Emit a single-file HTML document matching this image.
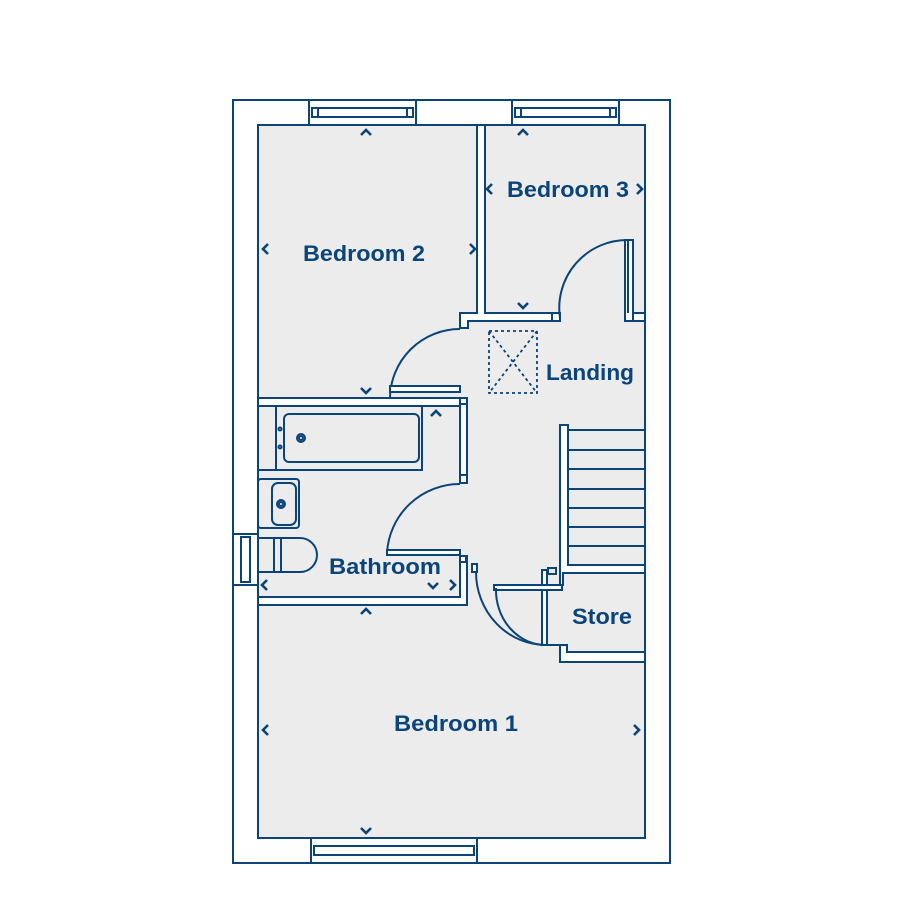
<!DOCTYPE html>
<html><head><meta charset="utf-8"><style>html,body{margin:0;padding:0;background:#fff}svg{display:block}</style></head><body>
<svg width="900" height="900" viewBox="0 0 900 900" xmlns="http://www.w3.org/2000/svg">
<g stroke="#0b4479" stroke-width="2" fill="none">
<rect x="233" y="100" width="437" height="763" fill="#fff"/>
<rect x="258" y="125" width="387" height="713" fill="#ececec"/>
<rect x="309" y="100" width="107" height="25" fill="#fff"/><rect x="312" y="108" width="101" height="9"/><line x1="318" y1="108" x2="318" y2="117"/><line x1="407" y1="108" x2="407" y2="117"/>
<rect x="512" y="100" width="107" height="25" fill="#fff"/><rect x="515" y="108" width="101" height="9"/><line x1="521" y1="108" x2="521" y2="117"/><line x1="610" y1="108" x2="610" y2="117"/>
<rect x="311" y="838" width="166" height="25" fill="#fff"/><rect x="314" y="846" width="160" height="9"/>
<rect x="233" y="534" width="25" height="51" fill="#fff"/><rect x="241" y="537" width="9" height="45"/>
<path d="M477 125 V313 H460 V328 H468 V321 H560 V313 H485 V125 Z" fill="#fff"/>
<rect x="552" y="313" width="8" height="8"/>
<path d="M625 240 H633 V313 H645 V321 H625 Z" fill="#fff"/><line x1="633" y1="313" x2="633" y2="321"/><line x1="628" y1="240" x2="628" y2="313"/>
<path d="M560 318 A68 68 0 0 1 628 240"/>
<path d="M460 329 A70 70 0 0 0 390 399"/>
<rect x="390" y="386" width="70" height="6" fill="#fff"/>
<path d="M258 398 H467 V483 H460 V406 H258 Z" fill="#fff"/>
<rect x="460" y="398" width="7" height="6" fill="#fff"/><rect x="460" y="475" width="7" height="8" fill="#fff"/>
<rect x="258" y="406" width="164" height="64"/><line x1="276" y1="406" x2="276" y2="470"/>
<rect x="284" y="414" width="135" height="48" rx="5"/>
<circle cx="301" cy="438" r="4"/><circle cx="301" cy="438" r="2"/>
<circle cx="280" cy="429" r="1.5"/><circle cx="280" cy="447" r="1.5"/>
<rect x="258" y="479" width="41" height="49" rx="3"/><rect x="272" y="483" width="24" height="42" rx="6"/><circle cx="281" cy="504" r="4"/><circle cx="281" cy="504" r="2"/>
<path d="M258 538 H300 A17 17 0 0 1 300 572 H258"/><line x1="274" y1="538" x2="274" y2="572"/><line x1="281" y1="538" x2="281" y2="572"/>
<path d="M460 484 A73 73 0 0 0 387 553"/>
<rect x="387" y="550" width="73" height="5" fill="#fff"/>
<path d="M460 556 H467 V605 H258 V597 H460 Z" fill="#fff"/><rect x="460" y="556" width="6" height="6"/>
<rect x="472" y="564" width="5" height="8" fill="#fff"/>
<path d="M560 425 H568 V565 H645 V573 H563 V585 H560 Z" fill="#fff"/>
<line x1="568" y1="430" x2="645" y2="430"/><line x1="568" y1="450" x2="645" y2="450"/><line x1="568" y1="469" x2="645" y2="469"/><line x1="568" y1="489" x2="645" y2="489"/><line x1="568" y1="508" x2="645" y2="508"/><line x1="568" y1="527" x2="645" y2="527"/><line x1="568" y1="546" x2="645" y2="546"/>
<rect x="548" y="568" width="8" height="6"/>
<rect x="542" y="570" width="5" height="75" fill="#fff"/>
<rect x="494" y="585" width="68" height="5" fill="#fff"/>
<path d="M496 588 A50 55 0 0 0 546 645"/>
<path d="M476 572 A70 73 0 0 0 546 645 H560"/>
<path d="M560 645 H567 V652 H645 V662 H560 Z" fill="#fff"/>
</g>
<g fill="none" stroke="#0b4479" stroke-width="1.8" stroke-dasharray="3,3">
<rect x="489" y="331" width="48" height="62"/>
<line x1="489" y1="331" x2="537" y2="393"/><line x1="537" y1="331" x2="489" y2="393"/>
</g>
<g fill="none" stroke="#0b4479" stroke-width="2.6">
<path d="M361 135 l5-5 l5 5"/><path d="M518 135 l5-5 l5 5"/>
<path d="M268 244 l-5 5 l5 5"/><path d="M470 244 l5 5 l-5 5"/>
<path d="M492 184 l-5 5 l5 5"/><path d="M637 184 l5 5 l-5 5"/>
<path d="M518 303 l5 5 l5-5"/><path d="M361 388 l5 5 l5-5"/>
<path d="M431 416 l5-5 l5 5"/>
<path d="M267 580 l-5 5 l5 5"/><path d="M428 583 l5 5 l5-5"/><path d="M450 580 l5 5 l-5 5"/>
<path d="M361 614 l5-5 l5 5"/>
<path d="M268 725 l-5 5 l5 5"/><path d="M634 725 l5 5 l-5 5"/>
<path d="M361 828 l5 5 l5-5"/>
</g>
<g font-family="'Liberation Sans',sans-serif" font-weight="bold" font-size="22" fill="#0b4479" text-anchor="middle">
<text x="364" y="261" textLength="122" lengthAdjust="spacingAndGlyphs">Bedroom 2</text>
<text x="568" y="197" textLength="122" lengthAdjust="spacingAndGlyphs">Bedroom 3</text>
<text x="590" y="380" textLength="88" lengthAdjust="spacingAndGlyphs">Landing</text>
<text x="385" y="574" textLength="112" lengthAdjust="spacingAndGlyphs">Bathroom</text>
<text x="602" y="624" textLength="60" lengthAdjust="spacingAndGlyphs">Store</text>
<text x="456" y="731" textLength="124" lengthAdjust="spacingAndGlyphs">Bedroom 1</text>
</g>
</svg>
</body></html>
